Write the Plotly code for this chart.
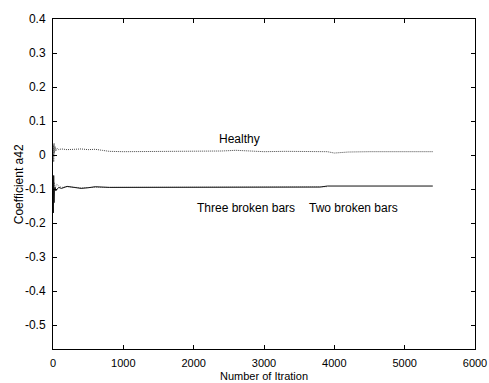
import plotly.graph_objects as go

# Healthy coefficient trace
healthy_x = [0, 5, 10, 15, 20, 30, 40, 60, 80, 120, 200, 300, 400, 500, 600, 700, 800, 1000, 1200, 1500, 1800, 2100, 2400, 2600, 2800, 3000, 3300, 3600, 3900, 4000, 4200, 4500, 4800, 5100, 5400]
healthy_y = [0.0, 0.03, -0.02, 0.035, 0.005, 0.025, 0.012, 0.02, 0.016, 0.018, 0.016, 0.017, 0.018, 0.016, 0.017, 0.014, 0.011, 0.01, 0.01, 0.01, 0.01, 0.011, 0.012, 0.014, 0.011, 0.01, 0.011, 0.01, 0.01, 0.006, 0.009, 0.01, 0.01, 0.01, 0.01]

# Three broken bars (grey dotted)
three_x = [0, 5, 10, 20, 30, 50, 80, 120, 200, 300, 400, 600, 800, 1000, 1500, 2000, 2500, 3000, 3500, 3900]
three_y = [-0.09, -0.07, -0.12, -0.08, -0.1, -0.085, -0.09, -0.095, -0.093, -0.095, -0.096, -0.095, -0.095, -0.095, -0.095, -0.095, -0.094, -0.094, -0.093, -0.093]

# Two broken bars (black solid)
two_x = [0, 5, 10, 15, 20, 30, 40, 60, 80, 120, 160, 200, 300, 400, 500, 600, 800, 1000, 1500, 2000, 2500, 3000, 3500, 3800, 3900, 4200, 4600, 5000, 5400]
two_y = [-0.09, -0.17, -0.06, -0.14, -0.1, -0.095, -0.105, -0.1, -0.095, -0.098, -0.094, -0.092, -0.095, -0.098, -0.096, -0.093, -0.095, -0.095, -0.096, -0.095, -0.095, -0.095, -0.094, -0.094, -0.091, -0.091, -0.091, -0.091, -0.091]

labels = ["Healthy", "Three broken bars", "Two broken bars"]
label_x = [2650, 2740, 4270]
label_y = [0.047, -0.156, -0.156]

x_ticks = [0, 1000, 2000, 3000, 4000, 5000, 6000]
y_ticks = [0.4, 0.3, 0.2, 0.1, 0, -0.1, -0.2, -0.3, -0.4, -0.5]
y_ticktext = ["0.4", "0.3", "0.2", "0.1", "0", "-0.1", "-0.2", "-0.3", "-0.4", "-0.5"]
x_title = "Number of Itration"
y_title = "Coefficient a42"

fig = go.Figure()
fig.add_trace(go.Scatter(x=healthy_x, y=healthy_y, mode="lines",
                         line=dict(color="#444444", width=1, dash="1px,1px")))
fig.add_trace(go.Scatter(x=three_x, y=three_y, mode="lines",
                         line=dict(color="#888888", width=1, dash="1px,1px")))
fig.add_trace(go.Scatter(x=two_x, y=two_y, mode="lines",
                         line=dict(color="#111111", width=1)))

for t, x, y in zip(labels, label_x, label_y):
    fig.add_annotation(x=x, y=y, text=t, showarrow=False,
                       font=dict(size=12, color="black"))

# axis titles as paper annotations for precise placement
fig.add_annotation(x=0.5, y=-0.103, xref="paper", yref="paper", text=x_title,
                   showarrow=False, xanchor="center", yanchor="bottom",
                   borderpad=0,
                   font=dict(size=11, color="black"))
fig.add_annotation(x=-0.08, y=0.5, xref="paper", yref="paper", text=y_title,
                   showarrow=False, xanchor="center", yanchor="middle", textangle=-90,
                   font=dict(size=12, color="black"))

axis_common = dict(showline=True, linecolor="black", linewidth=1, mirror="ticks",
                   ticks="inside", ticklen=4, tickcolor="black", showgrid=False,
                   zeroline=False, automargin=False)

fig.update_layout(
    width=489, height=383,
    margin=dict(l=53, r=14, t=19, b=34),
    paper_bgcolor="white", plot_bgcolor="white",
    showlegend=False,
    font=dict(family="Liberation Sans, Arial, sans-serif", size=12, color="black"),
    xaxis=dict(range=[0, 6000], tickvals=x_ticks, ticklabelstandoff=4,
               tickfont=dict(size=11, color="black"), **axis_common),
    yaxis=dict(range=[-0.57, 0.4], tickvals=y_ticks, ticktext=y_ticktext,
               ticklabelstandoff=4, tickfont=dict(size=12, color="black"), **axis_common),
)

fig.write_html("out.html", config={"displayModeBar": False},
               post_script="document.body.style.margin='0';")
